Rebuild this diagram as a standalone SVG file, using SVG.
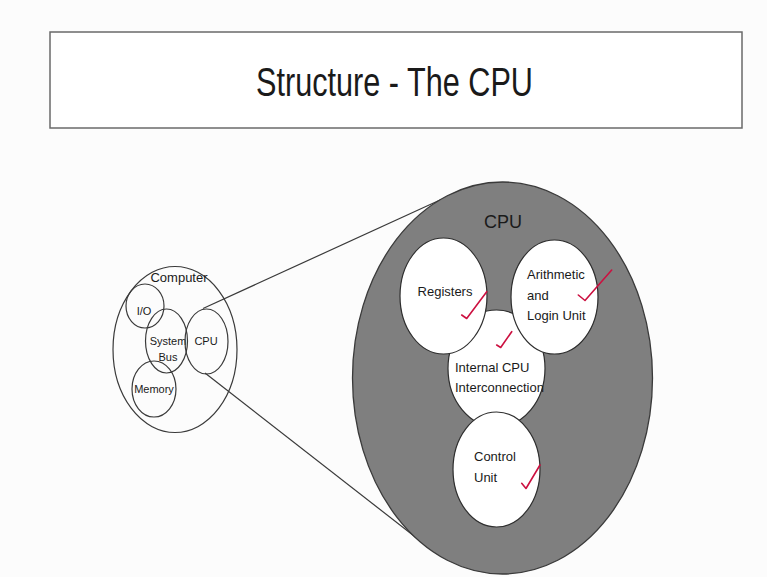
<svg xmlns="http://www.w3.org/2000/svg" width="767" height="577" viewBox="0 0 767 577">
  <style>
    .bg { fill: #fcfcfc; }
    .ring { fill: none; stroke: #3a3a3a; stroke-width: 1.2; }
    .unit { fill: #ffffff; stroke: #2e2e2e; stroke-width: 1.2; }
    .cpu { fill: #7f7f7f; stroke: #3a3a3a; stroke-width: 1.3; }
    .lbl { font-family: "Liberation Sans", Arial, sans-serif; fill: #1a1a1a; }
    .small { font-size: 11px; }
    .mid { font-size: 13px; }
    .tick { fill: none; stroke: #cc1040; stroke-width: 1.6; stroke-linecap: round; stroke-linejoin: round; }
    .link { stroke: #3a3a3a; stroke-width: 1.2; fill: none; }
  </style>

  <rect class="bg" x="0" y="0" width="767" height="577"/>

  <!-- title bar -->
  <g id="title">
    <rect x="50" y="32" width="692" height="96" fill="#ffffff" stroke="#6a6a6a" stroke-width="1.5"/>
    <text class="lbl" x="256" y="96" font-family="'Open Sans', 'Noto Sans', sans-serif" font-size="41" textLength="277" lengthAdjust="spacingAndGlyphs" fill="#111">Structure - The CPU</text>
  </g>

  <!-- zoom lines from the small CPU to the enlarged view -->
  <g id="connectors">
    <line class="link" x1="203" y1="308.5" x2="440" y2="200"/>
    <line class="link" x1="205" y1="373" x2="432" y2="550"/>
  </g>

  <!-- computer overview -->
  <g id="computer">
    <ellipse class="ring" cx="175" cy="349.5" rx="62" ry="83"/>
    <text class="lbl mid" x="179" y="282" text-anchor="middle">Computer</text>
  </g>
  <g id="io">
    <ellipse class="ring" cx="145" cy="306" rx="19" ry="22"/>
    <text class="lbl small" x="144" y="315" text-anchor="middle">I/O</text>
  </g>
  <g id="system-bus">
    <ellipse class="ring" cx="166.5" cy="341" rx="21" ry="32"/>
    <text class="lbl small" x="168" y="345" text-anchor="middle">System</text>
    <text class="lbl small" x="168" y="361" text-anchor="middle">Bus</text>
  </g>
  <g id="cpu-small">
    <ellipse class="ring" cx="206.5" cy="341.5" rx="21.5" ry="32.5"/>
    <text class="lbl small" x="206" y="345" text-anchor="middle">CPU</text>
  </g>
  <g id="memory">
    <ellipse class="ring" cx="154" cy="389" rx="22" ry="28"/>
    <text class="lbl small" x="154" y="393" text-anchor="middle">Memory</text>
  </g>

  <!-- enlarged CPU -->
  <g id="cpu">
    <ellipse class="cpu" cx="502.5" cy="378" rx="150" ry="196"/>
    <text class="lbl" x="503" y="228" font-size="18" text-anchor="middle">CPU</text>
  </g>
  <g id="interconnection">
    <ellipse class="unit" cx="496.5" cy="368.5" rx="48.5" ry="58.5"/>
    <text class="lbl mid" x="455" y="372">Internal CPU</text>
    <text class="lbl mid" x="455" y="392">Interconnection</text>
    <path class="tick" d="M496.7 345 L500.7 347.5 L511.7 331.7"/>
  </g>
  <g id="registers">
    <ellipse class="unit" cx="443.5" cy="296" rx="43.5" ry="58"/>
    <text class="lbl mid" x="445" y="296" text-anchor="middle">Registers</text>
    <path class="tick" d="M461.7 315 L466.7 318.5 L486.7 291.7"/>
  </g>
  <g id="alu">
    <ellipse class="unit" cx="554.5" cy="297" rx="43.5" ry="57"/>
    <text class="lbl mid" x="527" y="279">Arithmetic</text>
    <text class="lbl mid" x="527" y="300">and</text>
    <text class="lbl mid" x="527" y="320">Login Unit</text>
    <path class="tick" d="M578.3 295 L585 300.5 L611.7 270"/>
  </g>
  <g id="control-unit">
    <ellipse class="unit" cx="496.5" cy="469.5" rx="43.5" ry="57.5"/>
    <text class="lbl mid" x="474" y="461">Control</text>
    <text class="lbl mid" x="474" y="482">Unit</text>
    <path class="tick" d="M521.7 483.3 L526 488.5 L540 465"/>
  </g>
</svg>
